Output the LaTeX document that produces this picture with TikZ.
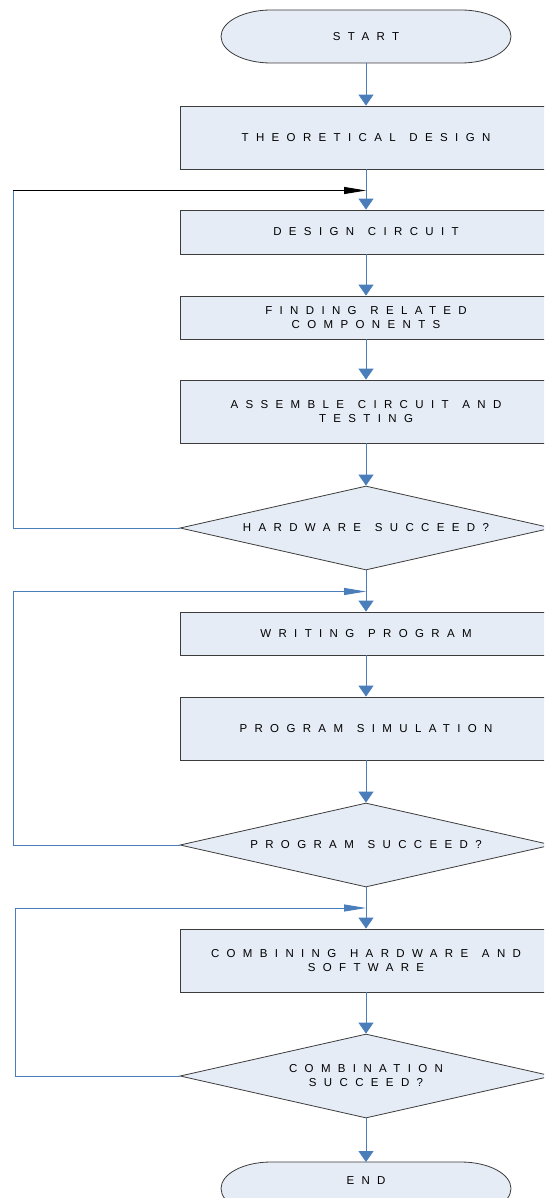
\documentclass[tikz,border=0pt]{standalone}
\usepackage{fontspec}
\setmainfont{Liberation Sans}[LetterSpace=64,WordSpace=1.3]
\usetikzlibrary{shapes.geometric,arrows.meta}
\definecolor{boxfill}{HTML}{E6ECF6}
\definecolor{boxline}{HTML}{3C3C3C}
\definecolor{flowblue}{HTML}{4A7EBB}
\tikzset{
  lbl/.style={font=\fontsize{11.5}{14}\selectfont, text=black, align=center},
  procbox/.style={lbl, draw=boxline, fill=boxfill, line width=0.8pt, minimum width=372pt, inner sep=0pt},
  decbox/.style={lbl, shape=diamond, aspect=4.43, draw=boxline, fill=boxfill, line width=0.8pt, minimum width=372pt, minimum height=84pt, inner sep=0pt},
  termtext/.style={lbl, inner sep=0pt},
  flow/.style={draw=flowblue, line width=1pt, -{Triangle[length=11pt,width=15pt]}, color=flowblue},
  loopline/.style={draw=flowblue, line width=1pt},
  loopback/.style={draw=flowblue, line width=1pt, -{Triangle[length=22pt,width=7pt]}, color=flowblue},
  loopdark/.style={draw=boxline, line width=1pt, -{Triangle[length=22pt,width=7pt]}, color=black},
  termshape/.style={draw=boxline, fill=boxfill, line width=0.8pt}
}
\begin{document}
\begin{tikzpicture}[x=1pt,y=-1pt]
\useasboundingbox (0,0) rectangle (544,1198);
\clip (0,0) rectangle (544,1198);
% START terminal
\draw[termshape] (271,10) -- (461,10) arc[start angle=-90,end angle=90,x radius=50,y radius=26.5] -- (271,63) arc[start angle=90,end angle=270,x radius=50,y radius=26.5] -- cycle;
\node[termtext] (start) at (366,36.5) {START};
\coordinate (startb) at (366,63);
% Process boxes
\node[procbox, minimum height=63pt] (td) at (366,137.5) {THEORETICAL DESIGN};
\node[procbox, minimum height=44pt] (dc) at (366,232) {DESIGN CIRCUIT};
\node[procbox, minimum height=43pt] (frc) at (366,317.5) {FINDING RELATED\\COMPONENTS};
\node[procbox, minimum height=63pt] (act) at (366,411.5) {ASSEMBLE CIRCUIT AND\\TESTING};
\node[decbox] (hw) at (366,528) {HARDWARE SUCCEED?};
\node[procbox, minimum height=43pt] (wp) at (366,633.5) {WRITING PROGRAM};
\node[procbox, minimum height=63pt] (ps) at (366,728.5) {PROGRAM SIMULATION};
\node[decbox] (pr) at (366,845) {PROGRAM SUCCEED?};
\node[procbox, minimum height=63pt] (chs) at (366,960.5) {COMBINING HARDWARE AND\\SOFTWARE};
\node[decbox] (cs) at (366,1076) {COMBINATION\\SUCCEED?};
% END terminal
\draw[termshape] (271,1162) -- (461,1162) arc[start angle=-90,end angle=90,x radius=50,y radius=26.5] -- (271,1215) arc[start angle=90,end angle=270,x radius=50,y radius=26.5] -- cycle;
\node[termtext] (end) at (366,1181) {END};
\coordinate (endt) at (366,1162);
% main flow
\draw[flow] (startb) -- (td.north);
\draw[flow] (td.south) -- (dc.north);
\draw[flow] (dc.south) -- (frc.north);
\draw[flow] (frc.south) -- (act.north);
\draw[flow] (act.south) -- (hw.north);
\draw[flow] (hw.south) -- (wp.north);
\draw[flow] (wp.south) -- (ps.north);
\draw[flow] (ps.south) -- (pr.north);
\draw[flow] (pr.south) -- (chs.north);
\draw[flow] (chs.south) -- (cs.north);
\draw[flow] (cs.south) -- (endt);
% loop 1
\coordinate (j1) at (366,190.5);
\coordinate (c1a) at (13,528);
\coordinate (c1b) at (13,190.5);
\draw[loopline] (hw.west) -- (c1a) -- (c1b);
\draw[loopdark] (c1b) -- (j1);
% loop 2
\coordinate (j2) at (366,591.5);
\coordinate (c2a) at (13,845);
\coordinate (c2b) at (13,591.5);
\draw[loopback] (pr.west) -- (c2a) -- (c2b) -- (j2);
% loop 3
\coordinate (j3) at (366,908);
\coordinate (c3a) at (15,1076);
\coordinate (c3b) at (15,908);
\draw[loopback] (cs.west) -- (c3a) -- (c3b) -- (j3);
\end{tikzpicture}
\end{document}
